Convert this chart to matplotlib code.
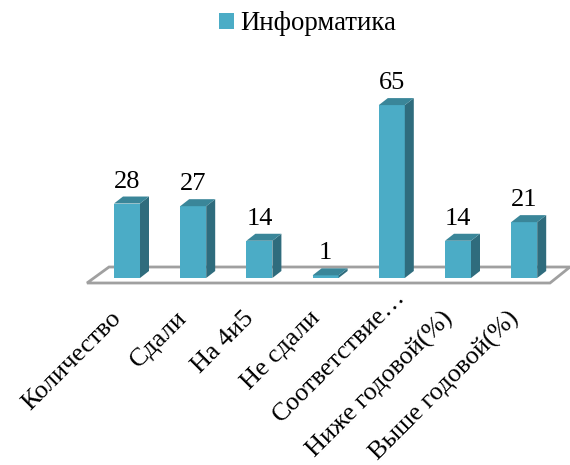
import matplotlib
matplotlib.use("Agg")
import matplotlib.pyplot as plt
from matplotlib.patches import Polygon, Rectangle

categories = ["Количество", "Сдали", "На 4и5", "Не сдали", "Соответствие…",
              "Ниже годовой(%)", "Выше годовой(%)"]
values = [28, 27, 14, 1, 65, 14, 21]
series_name = "Информатика"

W, H = 570, 465
X0, DX = 127.0, 66.2      # pixel of first category, pixels per category
Y0, DY = 278.0, 2.66      # pixel row of zero, pixels per unit
FRONT, SIDE, TOP = "#4BACC6", "#2F6C7D", "#3A8699"
FLOOR = "#A0A0A0"

plt.rcParams["font.family"] = ["Liberation Serif", "DejaVu Serif"]
fig = plt.figure(figsize=(W / 100, H / 100), dpi=100)
ax = fig.add_axes([0, 0, 1, 1])
ax.set_xlim(-X0 / DX, (W - X0) / DX)
ax.set_ylim(-(H - Y0) / DY, Y0 / DY)
ax.axis("off")

bw = 26 / DX            # bar width in category units
dx = 9 / DX             # 3-D depth
dy = 7 / DY

# floor
floor = Polygon([(-40 / DX, -5 / DY), (423 / DX, -5 / DY),
                 (443 / DX, 11 / DY), (-18 / DX, 11 / DY)],
                closed=True, facecolor="white", edgecolor=FLOOR, lw=2.0, zorder=1)
ax.add_patch(floor)

bars = ax.bar(range(len(values)), values, width=bw, color=FRONT, zorder=3, lw=0)
for i, v in enumerate(values):
    l, r = i - bw / 2, i + bw / 2
    ax.add_patch(Polygon([(r, 0), (r + dx, dy), (r + dx, v + dy), (r, v)],
                         closed=True, facecolor=SIDE, edgecolor="none", zorder=3))
    ax.add_patch(Polygon([(l, v), (r, v), (r + dx, v + dy), (l + dx, v + dy)],
                         closed=True, facecolor=TOP, edgecolor="none", zorder=3))
    ax.annotate(str(v), xy=(i, v), xytext=(0, 16), textcoords="offset pixels",
                ha="center", va="baseline", fontsize=19, color="black", zorder=4)
    # the truncated label sits further along its slant than the others
    off = (-17, -29) if not categories[i].endswith("…") else (2, -8)
    ax.annotate(categories[i], xy=(i, 0), xytext=off, textcoords="offset pixels",
                ha="right", va="top", rotation=45, rotation_mode="anchor",
                fontsize=18.8, color="black")

legend_handle = Rectangle((0, 0), 1, 1, facecolor=FRONT, edgecolor="none", label=series_name)
ax.legend(handles=[legend_handle], loc="center", bbox_to_anchor=(307.5 / W, 1 - 24 / H),
          frameon=False, fontsize=19.25, handlelength=0.56, handleheight=0.56,
          handletextpad=0.22, borderpad=0)
fig.savefig("out.png", dpi=100)
